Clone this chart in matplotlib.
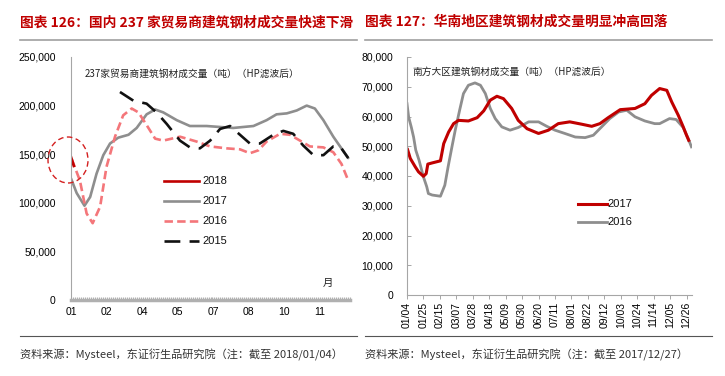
import matplotlib
matplotlib.use("Agg")
import matplotlib.pyplot as plt
from matplotlib.patches import Ellipse
from matplotlib.lines import Line2D

CJK = ['Noto Sans CJK SC', 'DejaVu Sans']
NUM = ['Liberation Sans', 'DejaVu Sans']

# ---------------- left chart data (x in month-label units) ----------------
left_ticks = [0, 1, 2, 3, 4, 5, 6, 7]
left_labels = ["01", "02", "04", "05", "07", "08", "10", "11"]
left_yticks = [0, 50000, 100000, 150000, 200000, 250000]

x2018 = [0.0, 0.08]
y2018 = [147000, 138000]

x2017 = [0.0, 0.16, 0.38, 0.54, 0.72, 0.91, 1.10, 1.33, 1.62, 1.85, 2.13, 2.37, 2.60,
         2.98, 3.35, 3.82, 4.57, 5.14, 5.51, 5.79, 6.08, 6.36, 6.64, 6.87, 7.11, 7.39,
         7.58, 7.81]
y2017 = [125000, 110000, 97000, 106000, 130000, 149000, 161000, 167000, 170000, 177000,
         191000, 196000, 193000, 185000, 179000, 179000, 177000, 179000, 185000, 191000,
         192000, 195000, 200000, 197000, 185000, 168000, 158000, 146000]

x2016 = [0.02, 0.25, 0.44, 0.61, 0.82, 1.00, 1.24, 1.47, 1.71, 1.90, 2.13, 2.37, 2.60,
         3.07, 3.54, 3.92, 4.39, 4.76, 5.04, 5.28, 5.51, 5.89, 6.17, 6.45, 6.73, 7.11,
         7.39, 7.62, 7.81]
y2016 = [145000, 123000, 89000, 79000, 96000, 137000, 168000, 190000, 197000, 193000,
         180000, 166000, 164000, 168000, 163000, 158000, 156000, 155000, 151000, 154000,
         163000, 171000, 170000, 164000, 158000, 157000, 152000, 140000, 123000]

x2015 = [1.38, 1.76, 2.13, 2.41, 2.70, 3.07, 3.35, 3.63, 3.92, 4.20, 4.48, 4.76, 5.04,
         5.32, 5.70, 5.98, 6.26, 6.54, 6.83, 7.11, 7.39, 7.58, 7.81]
y2015 = [214000, 205000, 202000, 193000, 181000, 164000, 157000, 156000, 164000, 176000,
         179000, 170000, 161000, 161000, 170000, 174000, 171000, 159000, 149000, 149000,
         158000, 158000, 146000]

# ---------------- right chart data (x in weeks from 01/04) ----------------
right_ticks = list(range(0, 52, 3))
right_labels = ["01/04", "01/25", "02/15", "03/07", "03/28", "04/18", "05/09", "05/30",
                "06/20", "07/11", "08/01", "08/22", "09/12", "10/03", "10/24", "11/14",
                "12/05", "12/26"]
right_yticks = [0, 10000, 20000, 30000, 40000, 50000, 60000, 70000, 80000]

w2017 = [0.1, 0.6, 1.5, 2.1, 3.0, 3.5, 3.8, 4.6, 6.1, 6.7, 7.6, 8.5, 9.4, 11.2, 12.8,
         14.0, 15.2, 16.4, 17.6, 19.1, 20.3, 21.9, 24.0, 25.8, 27.6, 29.7, 31.9, 33.7,
         35.2, 36.7, 38.9, 41.6, 43.4, 44.6, 46.1, 47.4, 48.3, 49.5, 50.4, 51.0, 51.4]
v2017 = [48900, 45900, 43100, 41400, 39900, 40800, 44000, 44400, 45100, 50900, 54800,
         57600, 58700, 58500, 59600, 61900, 65500, 66800, 66000, 62700, 58700, 55900,
         54300, 55400, 57600, 58200, 57400, 56700, 57600, 59600, 62300, 62700, 64300,
         67100, 69400, 68800, 64900, 60400, 56500, 53700, 52000]

w2016 = [0.0, 0.3, 0.8, 1.2, 1.6, 2.2, 3.0, 3.6, 3.9, 4.6, 6.1, 6.9, 7.5, 8.2, 8.8, 9.6,
         10.3, 11.2, 12.4, 13.4, 14.3, 15.2, 16.1, 17.3, 18.8, 20.3, 22.2, 24.0, 25.5,
         27.0, 28.8, 30.7, 32.5, 34.0, 35.5, 37.0, 38.6, 40.1, 41.6, 43.4, 45.2, 46.1,
         47.9, 49.1, 50.4, 51.3, 51.9]
v2016 = [64300, 59800, 56300, 53100, 48700, 45300, 39700, 36400, 34100, 33600, 33200,
         36900, 43100, 49800, 55400, 62100, 67700, 70500, 71300, 70500, 67700, 62700,
         59300, 56500, 55400, 56300, 58200, 58200, 56700, 55400, 54300, 53100, 52900,
         53700, 56500, 59300, 61500, 62100, 59900, 58500, 57600, 57600, 59300, 59000,
         56300, 52600, 49800]

RED = "#C00000"
GRAY = "#8E8E8E"
SALMON = "#F4767A"
BLACK = "#111111"
AX = "#A6A6A6"

W, H = 725, 376
fig = plt.figure(figsize=(W / 100, H / 100), dpi=100)
fig.patch.set_facecolor("white")

def fx(px):
    return px / W

def fy(py):
    return 1 - py / H

# titles
fig.text(fx(20), fy(22), "图表 126：国内 237 家贸易商建筑钢材成交量快速下滑", color=RED,
         fontsize=9.9, fontweight="bold", family=CJK, va="center", ha="left")
fig.text(fx(365), fy(22), "图表 127：华南地区建筑钢材成交量明显冲高回落", color=RED,
         fontsize=9.9, fontweight="bold", family=CJK, va="center", ha="left")
for x0, x1 in [(20, 357), (365, 712)]:
    fig.add_artist(Line2D([fx(x0), fx(x1)], [fy(40), fy(40)], color="#A0A0A0", lw=1.2))
    fig.add_artist(Line2D([fx(x0), fx(x1)], [fy(336), fy(336)], color="#555555", lw=0.8))
fig.text(fx(20), fy(355), "资料来源：Mysteel，东证衍生品研究院（注：截至 2018/01/04）",
         color="#333333", fontsize=8, family=CJK, va="center", ha="left")
fig.text(fx(365), fy(355), "资料来源：Mysteel，东证衍生品研究院（注：截至 2017/12/27）",
         color="#333333", fontsize=8, family=CJK, va="center", ha="left")

# ---------------- left axes ----------------
ax1 = fig.add_axes([fx(71), fy(300), fx(350) - fx(71), fy(57) - fy(300)])
ax1.plot(x2017, y2017, color=GRAY, lw=1.9, solid_capstyle="round", solid_joinstyle="round")
ax1.plot(x2016, y2016, color=SALMON, lw=1.9, dashes=(3.2, 1.6), dash_joinstyle="round")
ax1.plot(x2015, y2015, color=BLACK, lw=1.9, dashes=(6, 3.5), dash_joinstyle="round")
ax1.plot(x2018, y2018, color=RED, lw=2.0)
ax1.set_xlim(0, 7.86)
ax1.set_ylim(0, 250000)
ax1.set_xticks(left_ticks)
ax1.set_xticklabels(left_labels, family=NUM, fontsize=7.5)
ax1.set_xticks([i * 7.86 / 140 for i in range(141)], minor=True)
ax1.set_yticks(left_yticks)
ax1.set_yticklabels([f"{v:,}" for v in left_yticks], family=NUM, fontsize=7.5)
for s in ["top", "right"]:
    ax1.spines[s].set_visible(False)
ax1.spines["left"].set_color(AX)
ax1.spines["left"].set_linewidth(0.8)
ax1.spines["bottom"].set_color("#B0B0B0")
ax1.spines["bottom"].set_linewidth(2.5)
ax1.tick_params(axis="y", length=0, pad=11)
ax1.tick_params(axis="x", which="major", length=0, pad=5)
ax1.tick_params(axis="x", which="minor", length=2, width=0.8, color="#B0B0B0", direction="in")
ax1.text(0.05, 0.93, "237家贸易商建筑钢材成交量（吨）（HP滤波后）", transform=ax1.transAxes,
         family=CJK, fontsize=7, color="#222222", va="center", ha="left")
ax1.text(0.92, 0.07, "月", transform=ax1.transAxes, family=CJK, fontsize=7.5,
         color="#222222", va="center", ha="center", style="italic")

# legend (left)
leg1 = [("2018", RED, None), ("2017", GRAY, None), ("2016", SALMON, (3.2, 1.6)),
        ("2015", BLACK, (6, 3.5))]
for i, (lab, col, d) in enumerate(leg1):
    yy = 0.49 - i * 0.082
    ln = Line2D([0.335, 0.46], [yy, yy], transform=ax1.transAxes, color=col, lw=1.9)
    if d:
        ln.set_dashes(d)
    ax1.add_line(ln)
    ax1.text(0.47, yy, lab, transform=ax1.transAxes, family=NUM, fontsize=8,
             va="center", ha="left", color="#111111")

# circle annotation
fig.add_artist(Ellipse((fx(68), fy(160)), fx(40), 46 / H, transform=fig.transFigure,
                       fill=False, edgecolor="#D42020", lw=1.0, linestyle=(0, (4, 2.5))))

# ---------------- right axes ----------------
ax2 = fig.add_axes([fx(407), fy(295), fx(692) - fx(407), fy(57) - fy(295)])
ax2.plot(w2016, v2016, color=GRAY, lw=2.0, solid_joinstyle="round")
ax2.plot(w2017, v2017, color=RED, lw=2.2, solid_joinstyle="round")
ax2.set_xlim(0, 52)
ax2.set_ylim(0, 80000)
ax2.set_xticks(right_ticks)
ax2.set_xticklabels(right_labels, rotation=90, family=NUM, fontsize=7.5)
ax2.set_yticks(right_yticks)
ax2.set_yticklabels([f"{v:,}" for v in right_yticks], family=NUM, fontsize=7.5)
for s in ["top", "right"]:
    ax2.spines[s].set_visible(False)
for s in ["left", "bottom"]:
    ax2.spines[s].set_color(AX)
    ax2.spines[s].set_linewidth(0.8)
ax2.tick_params(axis="y", length=3, width=0.7, color=AX, direction="in", pad=10)
ax2.tick_params(axis="x", length=3, width=0.7, color=AX, direction="out", pad=2)
ax2.text(0.02, 0.94, "南方大区建筑钢材成交量（吨）（HP滤波后）", transform=ax2.transAxes,
         family=CJK, fontsize=7, color="#222222", va="center", ha="left")
leg2 = [("2017", RED, 2.2), ("2016", GRAY, 2.0)]
for i, (lab, col, lw) in enumerate(leg2):
    yy = 0.382 - i * 0.075
    ax2.add_line(Line2D([0.6, 0.7], [yy, yy], transform=ax2.transAxes, color=col, lw=lw))
    ax2.text(0.705, yy, lab, transform=ax2.transAxes, family=NUM, fontsize=8,
             va="center", ha="left", color="#111111")

fig.savefig("out.png", dpi=100, facecolor="white")
